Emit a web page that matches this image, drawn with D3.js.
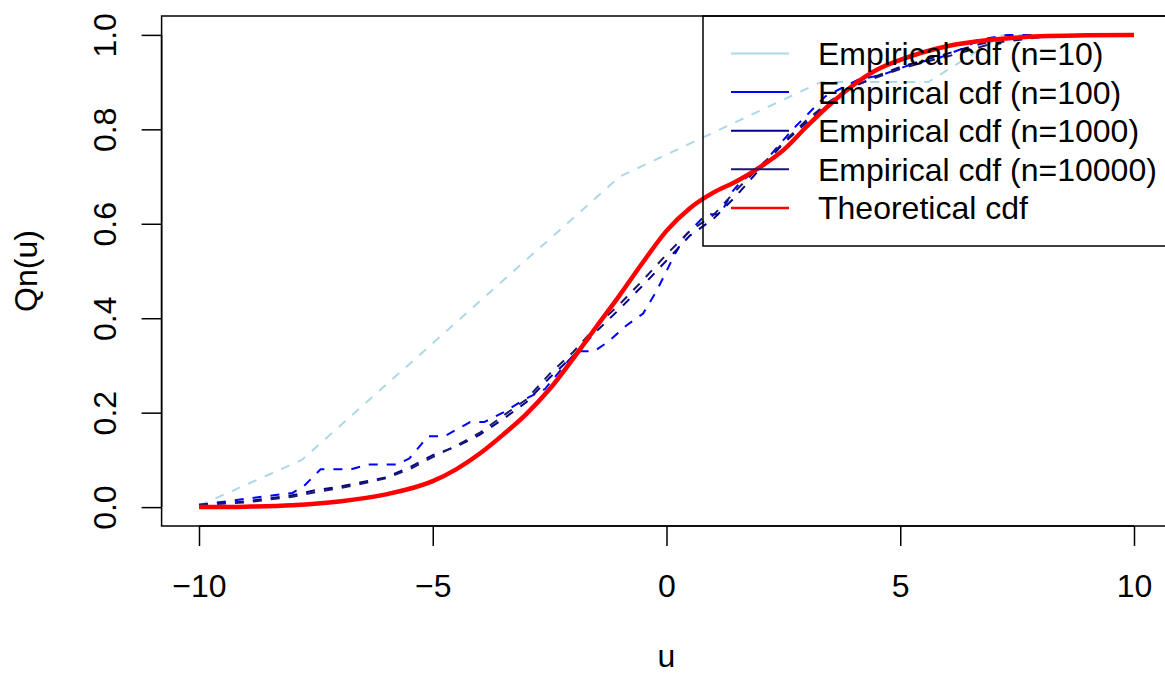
<!DOCTYPE html>
<html>
<head>
<meta charset="utf-8">
<script src="https://cdn.jsdelivr.net/npm/d3@7"></script>
<style>
  body { margin: 0; background: #fff; }
  svg { display: block; font-family: "Liberation Sans", Arial, sans-serif; }
</style>
</head>
<body>
<svg id="chart" width="1165" height="673"></svg>
<script>
// empirical cdf, n = 10
const u10 = [-10, -7.8, -1, 3.3, 5.6, 7.2, 10];
const q10 = [0.003, 0.1, 0.7, 0.9, 0.9, 1, 1];

// empirical cdf, n = 100
const u100 = [-10, -8, -7.75, -7.4, -6.75, -6.4, -5.77, -5.5, -5.1, -4.75, -4.2, -3.9, -3.5, -3, -2.6, -2.1, -1.9, -1.55,
  -1.25, -0.85, -0.5, -0.2, 0, 0.15, 0.4, 0.75, 0.95, 1.15, 1.42, 1.6, 2, 2.7, 3.4, 4.1, 4.6, 5.3, 5.8, 6.3, 6.7, 7.3, 10];
const q100 = [0.005, 0.03, 0.045, 0.08, 0.08, 0.09, 0.09, 0.103, 0.15, 0.15, 0.18, 0.18, 0.2, 0.23, 0.25, 0.31, 0.33, 0.33,
  0.35, 0.385, 0.41, 0.46, 0.5, 0.53, 0.575, 0.61, 0.62, 0.62, 0.67, 0.69, 0.72, 0.8, 0.87, 0.905, 0.915, 0.94, 0.95, 0.97, 0.99, 1, 1];

// empirical cdf, n = 1000 and n = 10000 (same u grid)
const uGrid = [-10, -9, -8, -7.5, -7, -6.5, -6, -5.5, -5, -4.5, -4, -3.5, -3, -2.5, -2, -1.5, -1, -0.5,
  0, 0.5, 1, 1.5, 2, 2.5, 3, 3.5, 4, 4.5, 5, 5.5, 6, 6.5, 7, 8, 9, 10];
const q1000 = [0.004, 0.012, 0.025, 0.036, 0.043, 0.053, 0.063, 0.084, 0.110, 0.128, 0.153, 0.186, 0.222, 0.274, 0.320, 0.372, 0.420, 0.470,
  0.522, 0.575, 0.610, 0.660, 0.716, 0.770, 0.815, 0.857, 0.890, 0.913, 0.932, 0.946, 0.960, 0.975, 0.988, 0.997, 1.0, 1.0];
const q10000 = [0.005, 0.010, 0.022, 0.032, 0.040, 0.050, 0.061, 0.080, 0.106, 0.130, 0.157, 0.193, 0.228, 0.282, 0.328, 0.383, 0.430, 0.481,
  0.535, 0.585, 0.618, 0.672, 0.721, 0.772, 0.820, 0.860, 0.892, 0.910, 0.928, 0.942, 0.954, 0.968, 0.983, 0.995, 0.999, 1.0];

// theoretical cdf
const uTheo = [-10, -9, -8, -7, -6, -5, -4.5, -4, -3.5, -3, -2.5, -2, -1.5, -1, -0.5, 0, 0.5, 1, 1.5, 2, 2.5, 3, 3.5, 4, 4.5, 5, 6, 7, 8, 9, 10];
const qTheo = [0, 0.001, 0.004, 0.012, 0.027, 0.055, 0.08, 0.113, 0.153, 0.197, 0.25, 0.314, 0.382, 0.449, 0.519, 0.585, 0.633, 0.666, 0.69, 0.72, 0.756, 0.806, 0.853, 0.894, 0.926, 0.947, 0.976, 0.99, 0.997, 0.999, 1.0];

const xTicks = [-10, -5, 0, 5, 10];
const yTicks = [0, 0.2, 0.4, 0.6, 0.8, 1.0];
const legendLabels = ["Empirical cdf (n=10)", "Empirical cdf (n=100)", "Empirical cdf (n=1000)", "Empirical cdf (n=10000)", "Theoretical cdf"];
const legendColors = ["lightblue", "blue", "darkblue", "midnightblue", "red"];

const svg = d3.select("#chart");
const fontSize = 32;
const fontFamily = "Liberation Sans, Arial, sans-serif";

// plot region (right edge falls just outside the canvas)
const plotLeft = 161.6, plotRight = 1171.4, plotTop = 16, plotBottom = 526;

const x = d3.scaleLinear().domain([-10.8, 10.8]).range([plotLeft, plotRight]);
const y = d3.scaleLinear().domain([-0.04, 1.04]).range([plotBottom, plotTop]);

const zip = (us, qs) => us.map((u, i) => ({ u: u, q: qs[i] }));

const line = d3.line().x(d => x(d.u)).y(d => y(d.q));
const smooth = d3.line().x(d => x(d.u)).y(d => y(d.q)).curve(d3.curveMonotoneX);

const series = [
  { data: zip(u10, q10), color: "lightblue" },
  { data: zip(u100, q100), color: "blue" },
  { data: zip(uGrid, q1000), color: "darkblue" },
  { data: zip(uGrid, q10000), color: "midnightblue" }
];

// dashed empirical curves
svg.selectAll(".ecdf")
  .data(series)
  .enter()
  .append("path")
  .attr("class", "ecdf")
  .attr("d", d => line(d.data))
  .attr("fill", "none")
  .attr("stroke", d => d.color)
  .attr("stroke-width", 2)
  .attr("stroke-dasharray", "9,9");

// theoretical curve on top
svg.append("path")
  .attr("d", smooth(zip(uTheo, qTheo)))
  .attr("fill", "none")
  .attr("stroke", "red")
  .attr("stroke-width", 4.5);

// box
svg.append("rect")
  .attr("x", plotLeft).attr("y", plotTop)
  .attr("width", plotRight - plotLeft).attr("height", plotBottom - plotTop)
  .attr("fill", "none").attr("stroke", "black").attr("stroke-width", 1.5);

// x axis (R style: ticks below, labels further down)
const xAxis = d3.axisBottom(x).tickValues(xTicks).tickSize(20).tickPadding(0)
  .tickFormat(d => d < 0 ? "\u2212" + Math.abs(d) : d);
const gx = svg.append("g").attr("transform", `translate(0,${plotBottom})`).call(xAxis);
gx.select(".domain").attr("d", `M${x(-10)},0H${x(10)}`).attr("stroke-width", 1.5);
gx.selectAll(".tick line").attr("stroke-width", 1.5);
gx.selectAll(".tick text")
  .attr("y", 71).attr("dy", null)
  .attr("font-size", fontSize).attr("font-family", fontFamily).attr("fill", "black");

// y axis, labels rotated
const yAxis = d3.axisLeft(y).tickValues(yTicks).tickSize(20).tickFormat(d3.format(".1f"));
const gy = svg.append("g").attr("transform", `translate(${plotLeft},0)`).call(yAxis);
gy.select(".domain").attr("d", `M0,${y(0)}V${y(1)}`).attr("stroke-width", 1.5);
gy.selectAll(".tick line").attr("stroke-width", 1.5);
gy.selectAll(".tick text")
  .attr("x", null).attr("dy", null)
  .attr("transform", "translate(-46,0) rotate(-90)")
  .attr("text-anchor", "middle")
  .attr("font-size", fontSize).attr("font-family", fontFamily).attr("fill", "black");

// axis titles
svg.append("text")
  .attr("x", (plotLeft + plotRight) / 2).attr("y", 667)
  .attr("text-anchor", "middle").attr("font-size", fontSize)
  .text("u");
svg.append("text")
  .attr("transform", `translate(37,${(plotTop + plotBottom) / 2}) rotate(-90)`)
  .attr("text-anchor", "middle").attr("font-size", fontSize)
  .text("Qn(u)");

// legend (transparent background, top right)
const legLeft = 703, rowH = 38.6, firstRow = 53.5;
svg.append("rect")
  .attr("x", legLeft).attr("y", plotTop)
  .attr("width", plotRight - legLeft).attr("height", firstRow - plotTop + rowH * 5 - 0.5)
  .attr("fill", "none").attr("stroke", "black").attr("stroke-width", 1.5);

const legRows = svg.selectAll(".leg")
  .data(legendLabels)
  .enter()
  .append("g")
  .attr("class", "leg")
  .attr("transform", (d, i) => `translate(0,${firstRow + i * rowH})`);

legRows.append("line")
  .attr("x1", 731).attr("x2", 789)
  .attr("stroke", (d, i) => legendColors[i])
  .attr("stroke-width", (d, i) => i === 4 ? 2.5 : 2);

legRows.append("text")
  .attr("x", 818).attr("y", 11.5)
  .attr("font-size", fontSize)
  .text(d => d);
</script>
</body>
</html>
